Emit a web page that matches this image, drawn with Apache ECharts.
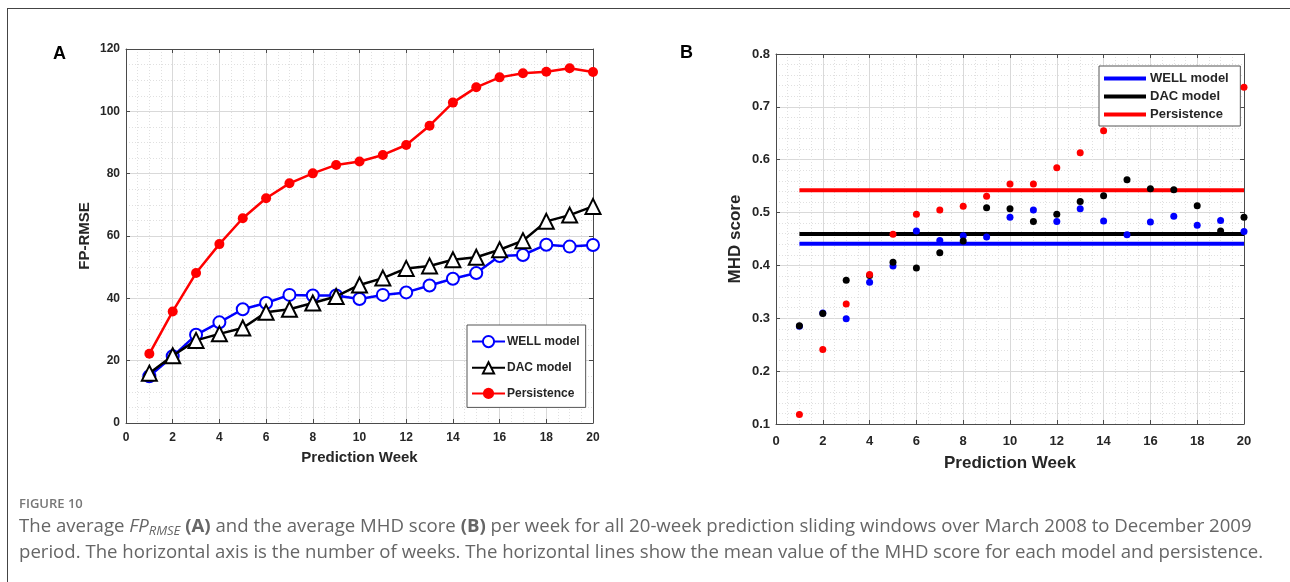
<!DOCTYPE html>
<html>
<head>
<meta charset="utf-8">
<script src="https://cdn.jsdelivr.net/npm/echarts@6/dist/echarts.min.js"></script>
<style>
  html, body { margin: 0; padding: 0; background: #fff; }
  #wrap { position: relative; width: 1290px; height: 582px; overflow: hidden; }
  #chart { position: absolute; left: 0; top: 0; width: 1290px; height: 582px; }
  #frame { position: absolute; left: 7px; top: 8px; width: 1290px; height: 600px;
           border-top: 1px solid #444; border-left: 1px solid #444; }
  .cap { position: absolute; left: 19px; font-family: "Open Sans", sans-serif; white-space: nowrap; }
  #figno { top: 494px; font-size: 13px; font-weight: 600; color: #777; }
  .line { font-size: 18.6px; color: #666; }
  #l1 { top: 512px; }
  #l2 { top: 538px; }
  sub { font-size: 0.7em; vertical-align: -0.25em; }
</style>
</head>
<body>
<div id="wrap">
  <div id="chart"></div>
  <div id="frame"></div>
  <div id="figno" class="cap">FIGURE 10</div>
  <div id="l1" class="cap line">The average <i>FP</i><sub><i>RMSE</i></sub> <b>(A)</b> and the average MHD score <b>(B)</b> per week for all 20-week prediction sliding windows over March 2008 to December 2009</div>
  <div id="l2" class="cap line">period. The horizontal axis is the number of weeks. The horizontal lines show the mean value of the MHD score for each model and persistence.</div>
</div>
<script>
var weeks = [1, 2, 3, 4, 5, 6, 7, 8, 9, 10, 11, 12, 13, 14, 15, 16, 17, 18, 19, 20];
var seriesNames = ["WELL model", "DAC model", "Persistence"];

// panel A: FP-RMSE per week
var wellRmse = [15.0, 21.4, 28.3, 32.3, 36.5, 38.5, 41.1, 40.9, 40.9, 39.8, 41.1, 41.9, 44.1, 46.3, 48.1, 53.6, 53.9, 57.2, 56.6, 57.1];
var dacRmse = [16.0, 21.6, 26.5, 28.6, 30.5, 35.5, 36.5, 38.5, 40.6, 44.3, 46.5, 49.6, 50.4, 52.4, 53.2, 55.6, 58.5, 64.7, 66.7, 69.5];
var persRmse = [22.2, 35.8, 48.1, 57.4, 65.7, 72.1, 76.9, 80.1, 82.8, 83.9, 86.0, 89.2, 95.4, 102.8, 107.7, 110.9, 112.2, 112.7, 113.8, 112.6];

// panel B: MHD score per week (persistence off the chart for weeks 15-19)
var wellMhd = [0.285, 0.310, 0.299, 0.368, 0.399, 0.465, 0.447, 0.456, 0.454, 0.491, 0.505, 0.483, 0.507, 0.484, 0.458, 0.482, 0.493, 0.476, 0.485, 0.464];
var dacMhd = [0.286, 0.309, 0.372, 0.381, 0.406, 0.395, 0.424, 0.446, 0.509, 0.507, 0.483, 0.497, 0.521, 0.532, 0.562, 0.545, 0.543, 0.513, 0.465, 0.491];
var persMhd = [0.118, 0.241, 0.327, 0.383, 0.459, 0.497, 0.505, 0.512, 0.531, 0.554, 0.554, 0.585, 0.613, 0.655, null, null, null, null, null, 0.737];
// mean lines
var wellMean = 0.441;
var dacMean = 0.4595;
var persMean = 0.542;

var colors = ["#0000ff", "#000000", "#ff0000"];
var font = "Liberation Sans, Arial, sans-serif";
var axisColor = "#4a4a4a";

function pairs(xs, ys) {
    return xs.map(function (x, i) { return [x, ys[i]]; }).filter(function (p) { return p[1] != null; });
}
function meanLine(v) {
    return [[weeks[0], v], [weeks[weeks.length - 1], v]];
}

// main axis (bottom / left) with grid, minor grid and inward ticks
function mainAxis(gridIndex, pos, min, max, interval, minorSplit, fontSize, margin, name, nameGap, nameSize) {
    return {
        type: "value", gridIndex: gridIndex, position: pos, min: min, max: max, interval: interval,
        name: name, nameLocation: "middle", nameGap: nameGap,
        nameTextStyle: {fontFamily: font, fontWeight: "bold", fontSize: nameSize, color: "#262626"},
        axisLine: {show: true, onZero: false, lineStyle: {color: axisColor, width: 1}},
        axisTick: {show: true, inside: true, length: 4, lineStyle: {color: axisColor}},
        axisLabel: {fontFamily: font, fontWeight: "bold", fontSize: fontSize, color: "#262626", margin: margin},
        splitLine: {show: true, lineStyle: {color: "#d9d9d9", width: 1}},
        minorTick: {show: false, splitNumber: minorSplit},
        minorSplitLine: {show: true, lineStyle: {color: "#e0e0e0", type: [1, 2], width: 1}}
    };
}
// mirror axis (top / right) for the box and its ticks
function boxAxis(gridIndex, pos, min, max, interval) {
    return {
        type: "value", gridIndex: gridIndex, position: pos, min: min, max: max, interval: interval,
        axisLine: {show: true, onZero: false, lineStyle: {color: axisColor, width: 1}},
        axisTick: {show: true, inside: true, length: 4, lineStyle: {color: axisColor}},
        axisLabel: {show: false},
        splitLine: {show: false}
    };
}

var chart = echarts.init(document.getElementById("chart"), null, {renderer: "canvas"});

var meanNames = ["WELL model ", "DAC model ", "Persistence "];

var option = {
    animation: false,
    backgroundColor: "transparent",
    grid: [
        {left: 126, top: 49, width: 467, height: 374},
        {left: 776, top: 54, width: 468, height: 370}
    ],
    xAxis: [
        mainAxis(0, "bottom", 0, 20, 2, 4, 12, 9, "Prediction Week", 27, 15),
        boxAxis(0, "top", 0, 20, 2),
        mainAxis(1, "bottom", 0, 20, 2, 4, 13, 11, "Prediction Week", 31, 17),
        boxAxis(1, "top", 0, 20, 2)
    ],
    yAxis: [
        mainAxis(0, "left", 0, 120, 20, 4, 12, 6, "FP-RMSE", 34, 15),
        boxAxis(0, "right", 0, 120, 20),
        mainAxis(1, "left", 0.1, 0.8, 0.1, 5, 13, 6, "MHD score", 32, 17),
        boxAxis(1, "right", 0.1, 0.8, 0.1)
    ],
    legend: [
        {
            data: seriesNames.slice(),
            orient: "vertical", left: 467, top: 325,
            backgroundColor: "#fff", borderColor: "#555", borderWidth: 1,
            padding: [10, 6, 8, 4], itemGap: 13, itemWidth: 33, itemHeight: 14,
            textStyle: {fontFamily: font, fontWeight: "bold", fontSize: 12, color: "#262626", padding: [0, 0, 0, -3]},
            selectedMode: false
        },
        {
            data: meanNames.map(function (n) { return {name: n, icon: "rect"}; }),
            orient: "vertical", left: 1099, top: 66,
            backgroundColor: "#fff", borderColor: "#555", borderWidth: 1,
            padding: [5, 8, 4, 5], itemGap: 3, itemWidth: 42, itemHeight: 4,
            textStyle: {fontFamily: font, fontWeight: "bold", fontSize: 13, color: "#262626", padding: [0, 0, 0, -1], lineHeight: 15},
            selectedMode: false
        }
    ],
    series: [
        // panel A
        {
            name: seriesNames[0], type: "line", xAxisIndex: 0, yAxisIndex: 0,
            data: pairs(weeks, wellRmse), symbol: "emptyCircle", symbolSize: 12,
            lineStyle: {color: colors[0], width: 2.5},
            itemStyle: {color: colors[0], borderWidth: 2.5}, z: 3
        },
        {
            name: seriesNames[1], type: "line", xAxisIndex: 0, yAxisIndex: 0,
            data: pairs(weeks, dacRmse), symbol: "emptyTriangle", symbolSize: 15,
            lineStyle: {color: colors[1], width: 2.5},
            itemStyle: {color: colors[1], borderWidth: 2.5}, z: 4
        },
        {
            name: seriesNames[2], type: "line", xAxisIndex: 0, yAxisIndex: 0,
            data: pairs(weeks, persRmse), symbol: "circle", symbolSize: 10,
            lineStyle: {color: colors[2], width: 2.5},
            itemStyle: {color: colors[2]}, z: 3
        },
        // panel B mean lines
        {
            name: meanNames[0], type: "line", xAxisIndex: 2, yAxisIndex: 2,
            data: meanLine(wellMean), symbol: "none", lineStyle: {color: colors[0], width: 4},
            itemStyle: {color: colors[0]}, z: 2
        },
        {
            name: meanNames[1], type: "line", xAxisIndex: 2, yAxisIndex: 2,
            data: meanLine(dacMean), symbol: "none", lineStyle: {color: colors[1], width: 4},
            itemStyle: {color: colors[1]}, z: 2
        },
        {
            name: meanNames[2], type: "line", xAxisIndex: 2, yAxisIndex: 2,
            data: meanLine(persMean), symbol: "none", lineStyle: {color: colors[2], width: 4},
            itemStyle: {color: colors[2]}, z: 2
        },
        // panel B weekly scores
        {
            name: "WELL weekly", type: "scatter", xAxisIndex: 2, yAxisIndex: 2,
            data: pairs(weeks, wellMhd), symbolSize: 7, itemStyle: {color: colors[0], opacity: 1}, z: 5
        },
        {
            name: "DAC weekly", type: "scatter", xAxisIndex: 2, yAxisIndex: 2,
            data: pairs(weeks, dacMhd), symbolSize: 7, itemStyle: {color: colors[1], opacity: 1}, z: 5
        },
        {
            name: "Persistence weekly", type: "scatter", xAxisIndex: 2, yAxisIndex: 2,
            data: pairs(weeks, persMhd), symbolSize: 7, itemStyle: {color: colors[2], opacity: 1}, z: 5
        }
    ],
    graphic: [
        {type: "text", left: 53, top: 45, style: {text: "A", font: "bold 18px " + font, fill: "#000"}},
        {type: "text", left: 680, top: 44, style: {text: "B", font: "bold 18px " + font, fill: "#000"}}
    ]
};
chart.setOption(option);
</script>
</body>
</html>
